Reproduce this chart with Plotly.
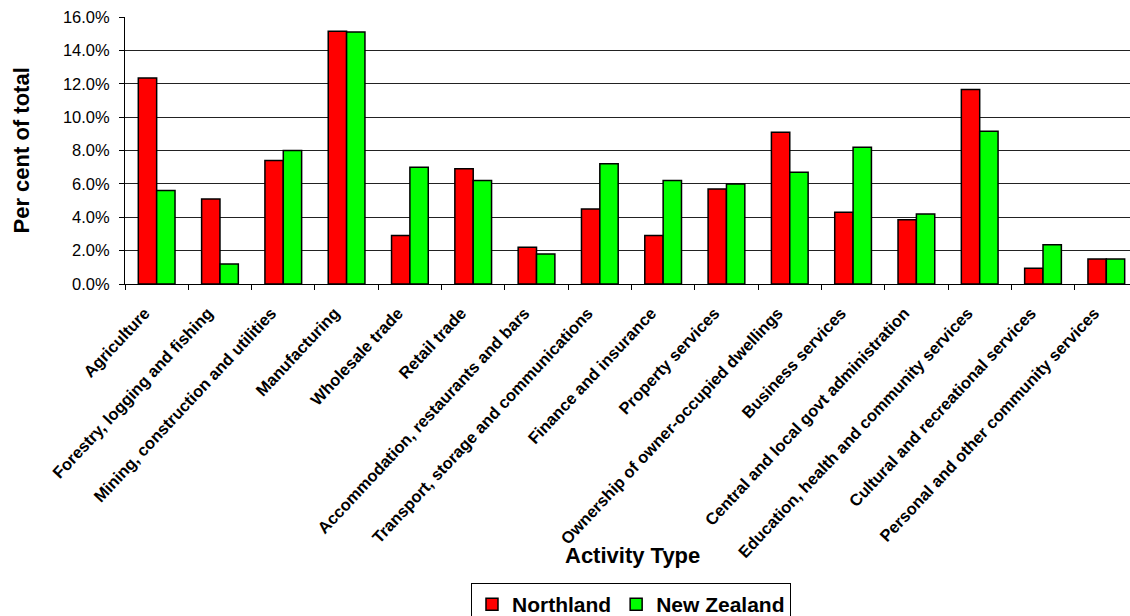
import plotly.graph_objects as go

activities = [
    "Agriculture",
    "Forestry, logging and fishing",
    "Mining, construction and utilities",
    "Manufacturing",
    "Wholesale trade",
    "Retail trade",
    "Accommodation, restaurants and bars",
    "Transport, storage and communications",
    "Finance and insurance",
    "Property services",
    "Ownership of owner-occupied dwellings",
    "Business services",
    "Central and local govt administration",
    "Education, health and community services",
    "Cultural and recreational services",
    "Personal and other community services",
]

northland = [12.35, 5.1, 7.4, 15.15, 2.9, 6.9, 2.2, 4.5, 2.9, 5.7, 9.1, 4.3, 3.85, 11.65, 0.95, 1.5]
new_zealand = [5.6, 1.2, 8.0, 15.1, 7.0, 6.2, 1.8, 7.2, 6.2, 6.0, 6.7, 8.2, 4.2, 9.15, 2.35, 1.5]

y_ticks = [0, 2, 4, 6, 8, 10, 12, 14, 16]
y_tick_text = [f"{v:.1f}%" for v in y_ticks]

FONT = "Liberation Sans, Arial, sans-serif"

fig = go.Figure()
fig.add_trace(go.Bar(
    name="Northland", x=activities, y=northland,
    marker=dict(color="#FF0000", line=dict(color="#000000", width=1.5)),
))
fig.add_trace(go.Bar(
    name="New Zealand", x=activities, y=new_zealand,
    marker=dict(color="#00FF00", line=dict(color="#000000", width=1.5)),
))

fig.update_layout(
    width=1130, height=616,
    margin=dict(l=125, r=0, t=17, b=332, autoexpand=False),
    paper_bgcolor="white", plot_bgcolor="white",
    barmode="group", bargap=0.42, bargroupgap=0,
    font=dict(family=FONT, color="black"),
    showlegend=True,
    legend=dict(
        orientation="h", xref="container", yref="container",
        x=0.5584, xanchor="center", y=0.0536, yanchor="top",
        font=dict(family=FONT, size=21, color="black", weight="bold"),
        bordercolor="black", borderwidth=1, bgcolor="white",
        itemwidth=30, tracegroupgap=0,
    ),
    xaxis=dict(
        type="category", range=[-0.5, 15.374],
        showline=True, linecolor="black", linewidth=1,
        ticks="outside", ticklen=5, tickcolor="black", tickson="boundaries",
        tickangle=-47, showgrid=False,
        ticklabelstandoff=12, ticklabelshift=-12,
        tickfont=dict(family=FONT, size=16.5, color="black", weight="bold"),
    ),
    yaxis=dict(
        range=[0, 16], tickvals=y_ticks, ticktext=y_tick_text,
        showline=True, linecolor="black", linewidth=1,
        ticks="outside", ticklen=5, tickcolor="black",
        showgrid=True, gridcolor="#222222", gridwidth=1,
        zeroline=False, ticklabelstandoff=6,
        tickfont=dict(family=FONT, size=16.5, color="black"),
    ),
    annotations=[
        dict(text="Per cent of total", textangle=-90, xref="paper", yref="paper",
             x=-0.1025, y=0.5, xanchor="center", yanchor="middle", showarrow=False,
             font=dict(family=FONT, size=22, color="black", weight="bold")),
        dict(text="Activity Type", xref="paper", yref="paper",
             x=0.5045, y=-1.0187, xanchor="center", yanchor="middle", showarrow=False,
             font=dict(family=FONT, size=22, color="black", weight="bold")),
    ],
)

fig.write_html("out.html")
